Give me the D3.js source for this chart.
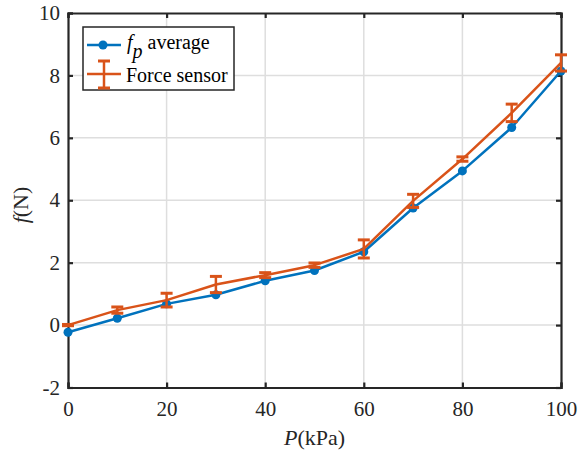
<!DOCTYPE html>
<html><head><meta charset="utf-8">
<script src="https://cdn.jsdelivr.net/npm/d3@7"></script>
<style>body{margin:0;background:#fff}svg{display:block}</style>
</head><body>
<svg id="c" width="579" height="454"></svg>
<script>
const pressure = [0,10,20,30,40,50,60,70,80,90,100];
const fpAverage = [-0.23,0.22,0.68,0.97,1.42,1.75,2.35,3.75,4.94,6.33,8.14];
const forceSensor = [0.0,0.48,0.8,1.3,1.6,1.92,2.44,3.98,5.32,6.8,8.4];
const forceErr = [0.02,0.1,0.22,0.26,0.08,0.07,0.29,0.21,0.07,0.28,0.26];
const xTicks = [0,20,40,60,80,100];
const yTicks = [-2,0,2,4,6,8,10];

const FONT = '"Liberation Serif"';
const svg = d3.select("#c");
const L=68,R=561,T=13,B=387.5;
const x = d3.scaleLinear().domain([0,100]).range([L,R]);
const y = d3.scaleLinear().domain([-2,10]).range([B,T]);
const axCol = "#262626";
const blue = "#0072BD", orange = "#D95319";
const fmt = d => String(d);

// grid
const g = svg.append("g");
g.selectAll(".gx").data(xTicks.slice(1,-1)).enter().append("line")
 .attr("x1",d=>x(d)).attr("x2",d=>x(d)).attr("y1",T).attr("y2",B)
 .attr("stroke","#dedede").attr("stroke-width",1.5);
g.selectAll(".gy").data(yTicks.slice(1,-1)).enter().append("line")
 .attr("y1",d=>y(d)).attr("y2",d=>y(d)).attr("x1",L).attr("x2",R)
 .attr("stroke","#dedede").attr("stroke-width",1.5);

// axes with inward ticks
const xb = d3.axisBottom(x).tickValues(xTicks).tickSize(-5).tickPadding(14).tickFormat(fmt);
const xt = d3.axisTop(x).tickValues(xTicks).tickSize(-5).tickFormat("");
const yl = d3.axisLeft(y).tickValues(yTicks).tickSize(-5).tickPadding(8).tickFormat(fmt);
const yr = d3.axisRight(y).tickValues(yTicks).tickSize(-5).tickFormat("");
function style(sel){
  sel.attr("font-family",null).attr("font-size",null);
  sel.selectAll("path").attr("stroke",axCol).attr("stroke-width",2.2).attr("fill","none");
  sel.selectAll("line").attr("stroke",axCol).attr("stroke-width",2.2);
  sel.selectAll("text").attr("fill",axCol).style("font-family",FONT).style("font-size","21px");
}
style(svg.append("g").attr("transform",`translate(0,${B})`).call(xb));
style(svg.append("g").attr("transform",`translate(0,${T})`).call(xt));
style(svg.append("g").attr("transform",`translate(${L},0)`).call(yl));
style(svg.append("g").attr("transform",`translate(${R},0)`).call(yr));

// blue series
const line = d3.line().x((d,i)=>x(pressure[i])).y(d=>y(d));
svg.append("path").datum(fpAverage).attr("d",line).attr("fill","none")
 .attr("stroke",blue).attr("stroke-width",2.5).attr("stroke-linejoin","round");
svg.selectAll(".bm").data(fpAverage).enter().append("circle")
 .attr("cx",(d,i)=>x(pressure[i])).attr("cy",d=>y(d)).attr("r",4.5).attr("fill",blue);

// orange series with error bars
svg.append("path").datum(forceSensor).attr("d",line).attr("fill","none")
 .attr("stroke",orange).attr("stroke-width",2.5).attr("stroke-linejoin","round");
const eb = svg.append("g").attr("stroke",orange).attr("stroke-width",2.5);
forceSensor.forEach((v,i)=>{
  const cx=x(pressure[i]), y1=y(v+forceErr[i]), y2=y(v-forceErr[i]);
  eb.append("line").attr("x1",cx).attr("x2",cx).attr("y1",y1).attr("y2",y2);
  eb.append("line").attr("x1",cx-6).attr("x2",cx+6).attr("y1",y1).attr("y2",y1).attr("stroke-width",3);
  eb.append("line").attr("x1",cx-6).attr("x2",cx+6).attr("y1",y2).attr("y2",y2).attr("stroke-width",3);
});

// legend
const lg = svg.append("g");
lg.append("rect").attr("x",83).attr("y",27).attr("width",151).attr("height",63)
 .attr("fill","#fff").attr("stroke",axCol).attr("stroke-width",1.5);
lg.append("line").attr("x1",87).attr("x2",121).attr("y1",45).attr("y2",45).attr("stroke",blue).attr("stroke-width",2.5);
lg.append("circle").attr("cx",103).attr("cy",45).attr("r",4.5).attr("fill",blue);
const t1 = lg.append("text").attr("x",127).attr("y",49).attr("fill","#000")
 .style("font-family",FONT).style("font-size","20px");
t1.append("tspan").style("font-style","italic").text("f");
t1.append("tspan").style("font-style","italic").attr("dy",9).text("p");
t1.append("tspan").attr("dy",-9).text(" average");
lg.append("line").attr("x1",87).attr("x2",121).attr("y1",74).attr("y2",74).attr("stroke",orange).attr("stroke-width",2.5);
lg.append("line").attr("x1",104).attr("x2",104).attr("y1",61).attr("y2",88).attr("stroke",orange).attr("stroke-width",2.5);
lg.append("line").attr("x1",98).attr("x2",110).attr("y1",61).attr("y2",61).attr("stroke",orange).attr("stroke-width",3);
lg.append("line").attr("x1",98).attr("x2",110).attr("y1",88).attr("y2",88).attr("stroke",orange).attr("stroke-width",3);
lg.append("text").attr("x",126).attr("y",82).attr("fill","#000")
 .style("font-family",FONT).style("font-size","20px").text("Force sensor");

// axis labels
const xl = svg.append("text").attr("x",314.5).attr("y",445).attr("text-anchor","middle")
 .attr("fill",axCol).style("font-family",FONT).style("font-size","22px");
xl.append("tspan").style("font-style","italic").text("P");
xl.append("tspan").text("(kPa)");
const ylab = svg.append("text").attr("transform",`translate(28,205) rotate(-90)`).attr("text-anchor","middle")
 .attr("fill",axCol).style("font-family",FONT).style("font-size","22px");
ylab.append("tspan").style("font-style","italic").text("f");
ylab.append("tspan").text("(N)");
</script>
</body></html>
